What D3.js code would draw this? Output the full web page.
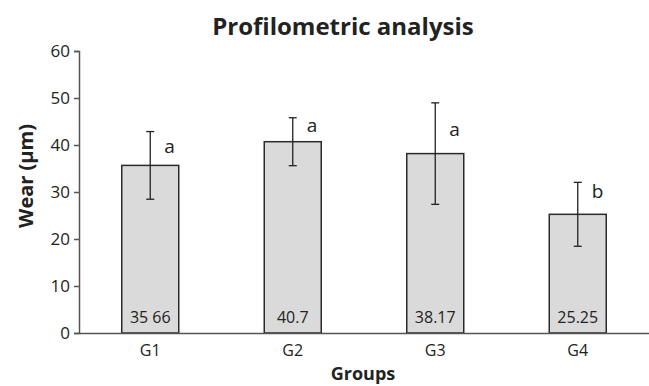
<!DOCTYPE html>
<html lang="en">
<head>
<meta charset="UTF-8">
<title>Profilometric analysis</title>
<script src="https://d3js.org/d3.v7.min.js"></script>
<style>
  body { margin: 0; background: #fff; }
  text { font-family: "Open Sans", "Noto Sans", sans-serif; fill: #222; }
</style>
</head>
<body>
<script>
// data
const groups = ["G1", "G2", "G3", "G4"];
const means = [35.66, 40.7, 38.17, 25.25];
const errors = [7.2, 5.1, 10.8, 6.8];
const valueLabels = ["35 66", "40.7", "38.17", "25.25"];
const letters = ["a", "a", "a", "b"];
const letterLevels = [38.3, 42.8, 41.9, 28.7];   // where each letter sits, in µm
const yTicks = [0, 10, 20, 30, 40, 50, 60];

const width = 649, height = 386;
const margin = {top: 51, right: 0, bottom: 53, left: 79};

const svg = d3.select("body").append("svg")
    .attr("width", width)
    .attr("height", height);

const x = d3.scaleBand()
    .domain(groups)
    .range([margin.left, width - margin.right])
    .paddingInner(0.6)
    .paddingOuter(0.3);

const y = d3.scaleLinear()
    .domain([0, 60])
    .range([height - margin.bottom, margin.top]);

const cx = d => x(d) + x.bandwidth() / 2;

// bars
svg.append("g")
  .selectAll("rect")
  .data(groups)
  .enter().append("rect")
    .attr("x", d => x(d))
    .attr("y", (d, i) => y(means[i]))
    .attr("width", x.bandwidth())
    .attr("height", (d, i) => y(0) - y(means[i]))
    .attr("fill", "#dadada")
    .attr("stroke", "#2a2a2a")
    .attr("stroke-width", 1.5);

// error bars
const eb = svg.append("g")
  .selectAll("g")
  .data(groups)
  .enter().append("g")
    .attr("stroke", "#222")
    .attr("stroke-width", 1.3);

eb.append("line")
    .attr("x1", cx)
    .attr("x2", cx)
    .attr("y1", (d, i) => y(means[i] + errors[i]))
    .attr("y2", (d, i) => y(means[i] - errors[i]));
eb.append("line")
    .attr("x1", d => cx(d) - 4)
    .attr("x2", d => cx(d) + 4)
    .attr("y1", (d, i) => y(means[i] + errors[i]))
    .attr("y2", (d, i) => y(means[i] + errors[i]));
eb.append("line")
    .attr("x1", d => cx(d) - 4)
    .attr("x2", d => cx(d) + 4)
    .attr("y1", (d, i) => y(means[i] - errors[i]))
    .attr("y2", (d, i) => y(means[i] - errors[i]));

// significance letters
svg.append("g")
  .selectAll("text")
  .data(groups)
  .enter().append("text")
    .attr("x", d => cx(d) + 14)
    .attr("y", (d, i) => y(letterLevels[i]))
    .attr("font-size", 19)
    .text((d, i) => letters[i]);

// value labels inside bars
svg.append("g")
  .selectAll("text")
  .data(groups)
  .enter().append("text")
    .attr("x", cx)
    .attr("y", y(0) - 10)
    .attr("text-anchor", "middle")
    .attr("font-size", 16)
    .text((d, i) => valueLabels[i]);

// y axis
const yAxis = svg.append("g")
    .attr("transform", `translate(${margin.left},0)`)
    .call(d3.axisLeft(y).tickValues(yTicks).tickSize(5).tickPadding(4));
yAxis.selectAll("line, path").attr("stroke", "#555").attr("stroke-width", 1.5);
yAxis.selectAll("text").attr("font-size", 17).attr("font-family", "Open Sans").attr("fill", "#222");

// x axis
const xAxis = svg.append("g")
    .attr("transform", `translate(0,${y(0)})`)
    .call(d3.axisBottom(x).tickSize(0).tickPadding(12).tickSizeOuter(0));
xAxis.select("path").attr("stroke", "#555").attr("stroke-width", 1.5);
xAxis.selectAll("text").attr("font-size", 16).attr("font-family", "Open Sans").attr("fill", "#222");

// titles
svg.append("text")
    .attr("x", 343)
    .attr("y", 35)
    .attr("text-anchor", "middle")
    .attr("font-size", 24)
    .attr("font-weight", "bold")
    .text("Profilometric analysis");

svg.append("text")
    .attr("transform", `translate(33,176) rotate(-90)`)
    .attr("text-anchor", "middle")
    .attr("font-size", 20)
    .attr("font-weight", "bold")
    .text("Wear (μm)");

svg.append("text")
    .attr("x", 363)
    .attr("y", 380)
    .attr("text-anchor", "middle")
    .attr("font-size", 18)
    .attr("font-weight", "bold")
    .text("Groups");
</script>
</body>
</html>
